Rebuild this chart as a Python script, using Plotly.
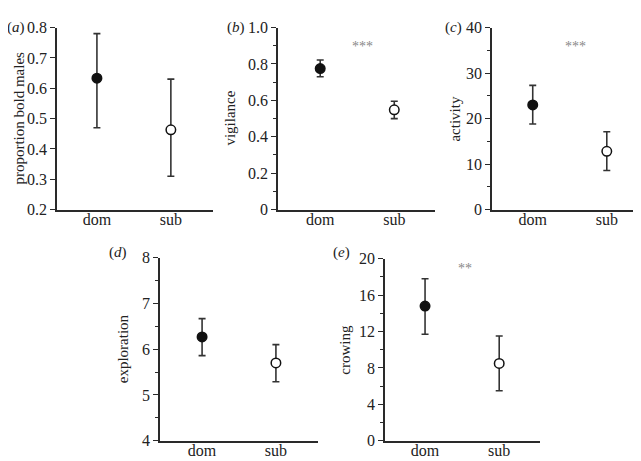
import plotly.graph_objects as go

W, H = 641, 461

categories = ["dom", "sub"]

# panel data: mean, lower and upper error limits
a_mean = [0.633, 0.463]
a_low = [0.47, 0.31]
a_high = [0.78, 0.63]

b_mean = [0.775, 0.548]
b_low = [0.73, 0.50]
b_high = [0.822, 0.595]

c_mean = [23.0, 12.8]
c_low = [18.8, 8.6]
c_high = [27.3, 17.1]

d_mean = [6.27, 5.70]
d_low = [5.86, 5.29]
d_high = [6.67, 6.10]

e_mean = [14.8, 8.5]
e_low = [11.7, 5.5]
e_high = [17.8, 11.5]

y_titles = ["proportion bold males", "vigilance", "activity", "exploration", "crowing"]
panel_letters = ["a", "b", "c", "d", "e"]
sig_labels = ["", "***", "***", "", "**"]

FONT = "Liberation Serif"
AX = "#2a2a2a"

# pixel layout: (x0, x1, ytop, ybottom)
boxes = [
    (49, 205, 12, 201),
    (270, 427, 12, 201),
    (484, 641, 12, 201),
    (152, 310, 251, 441),
    (377, 532, 252, 441),
]
xranges = [[-0.54, 1.57], [-0.57, 1.55], [-0.55, 1.57], [-0.57, 1.57], [-0.54, 1.55]]
yaxes_cfg = [
    dict(range=[0.2, 0.8], tickvals=[0.2, 0.3, 0.4, 0.5, 0.6, 0.7, 0.8],
         ticktext=["0.2", "0.3", "0.4", "0.5", "0.6", "0.7", "0.8"], minor=None),
    dict(range=[0, 1.0], tickvals=[0, 0.2, 0.4, 0.6, 0.8, 1.0],
         ticktext=["0", "0.2", "0.4", "0.6", "0.8", "1.0"], minor=0.1),
    dict(range=[0, 40], tickvals=[0, 10, 20, 30, 40],
         ticktext=["0", "10", "20", "30", "40"], minor=5),
    dict(range=[4, 8], tickvals=[4, 5, 6, 7, 8],
         ticktext=["4", "5", "6", "7", "8"], minor=0.5),
    dict(range=[0, 20], tickvals=[0, 4, 8, 12, 16, 20],
         ticktext=["0", "4", "8", "12", "16", "20"], minor=2),
]
sig_pos = [None, (0.57, 0.894), (0.58, 35.8), None, (0.54, 18.9)]
ytitle_x = [11, 222, 447, 115, 337]
letter_pos = [(8, 12), (228, 12), (445, 12), (110, 246), (333, 246)]

data_sets = [
    (a_mean, a_low, a_high),
    (b_mean, b_low, b_high),
    (c_mean, c_low, c_high),
    (d_mean, d_low, d_high),
    (e_mean, e_low, e_high),
]

fig = go.Figure()
annotations = []

for i, ((mean, low, high), box) in enumerate(zip(data_sets, boxes)):
    n = i + 1
    xs = "x" if n == 1 else f"x{n}"
    ys = "y" if n == 1 else f"y{n}"
    up = [h - m for h, m in zip(high, mean)]
    dn = [m - l for m, l in zip(mean, low)]
    fig.add_trace(go.Scatter(
        x=categories, y=mean, mode="markers",
        xaxis=xs, yaxis=ys,
        error_y=dict(type="data", symmetric=False, array=up, arrayminus=dn,
                     color="#333333", thickness=1.6, width=3.5),
        marker=dict(size=9.5, color=["#111111", "white"],
                    line=dict(color="#111111", width=1.5)),
        showlegend=False, cliponaxis=False,
    ))
    x0, x1, yt, yb = box
    xdom = [x0 / W, x1 / W]
    ydom = [1 - yb / H, 1 - yt / H]
    xa = dict(domain=xdom, range=xranges[i], type="category",
              showline=True, linecolor=AX, linewidth=1.5, ticks="",
              showgrid=False, zeroline=False, anchor=ys, ticklabelstandoff=-6,
              tickfont=dict(family=FONT, size=16, color="#222"), fixedrange=True)
    cfg = yaxes_cfg[i]
    ya = dict(domain=ydom, range=cfg["range"], tickvals=cfg["tickvals"],
              ticktext=cfg["ticktext"], showline=True, linecolor=AX,
              linewidth=1.5, ticks="outside", ticklen=5, tickwidth=1.3,
              tickcolor=AX, showgrid=False, zeroline=False, anchor=xs,
              tickfont=dict(family=FONT, size=16, color="#222"), fixedrange=True)
    if cfg["minor"]:
        ya["minor"] = dict(dtick=cfg["minor"], tick0=cfg["range"][0], ticks="outside",
                           ticklen=3, tickwidth=1.1, tickcolor=AX, showgrid=False)
    key = "" if n == 1 else str(n)
    fig.update_layout(**{f"xaxis{key}": xa, f"yaxis{key}": ya})

    # y-axis title
    annotations.append(dict(
        x=ytitle_x[i] / W, y=1 - (yt + yb) / 2 / H, xref="paper", yref="paper",
        text=y_titles[i], textangle=-90, showarrow=False,
        font=dict(family=FONT, size=15, color="#222"),
        xanchor="center", yanchor="middle"))
    # panel letter
    lx, ly = letter_pos[i]
    annotations.append(dict(
        x=lx / W, y=1 - ly / H, xref="paper", yref="paper",
        text=f"(<i>{panel_letters[i]}</i>)", showarrow=False,
        font=dict(family=FONT, size=15, color="#222"),
        xanchor="center", yanchor="middle"))
    # significance
    if sig_pos[i] is not None:
        sx, sy = sig_pos[i]
        annotations.append(dict(
            x=sx, y=sy, xref=xs, yref=ys, text=sig_labels[i], showarrow=False,
            font=dict(family=FONT, size=14, color="#888888"),
            xanchor="center", yanchor="middle"))

fig.update_layout(
    width=W, height=H, margin=dict(l=0, r=0, t=0, b=0),
    paper_bgcolor="white", plot_bgcolor="white",
    annotations=annotations,
)

fig.write_html("out.html")
